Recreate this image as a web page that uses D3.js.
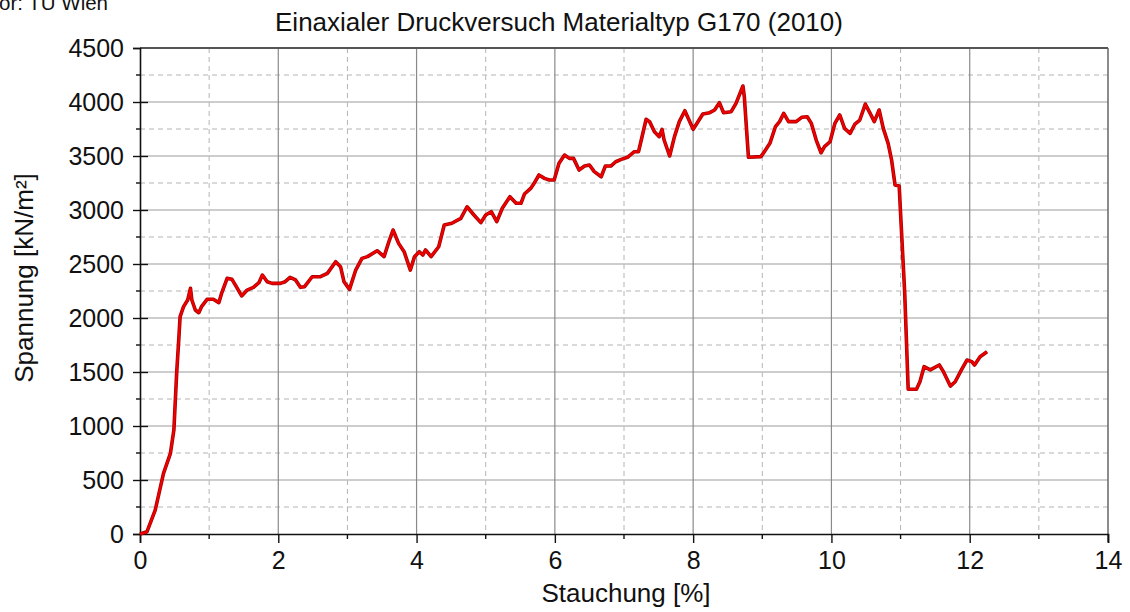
<!DOCTYPE html>
<html>
<head>
<meta charset="utf-8">
<script src="https://cdn.jsdelivr.net/npm/d3@7"></script>
<style>
  body { margin: 0; background: #fff; }
  svg { font-family: "Liberation Sans", Arial, sans-serif; }
</style>
</head>
<body>
<svg id="chart" width="1130" height="612"></svg>
<script>
// Stauchung [%]
const strain = [
  0.00, 0.10, 0.22, 0.34, 0.44, 0.49, 0.53, 0.56, 0.58, 0.63,
  0.69, 0.73, 0.75, 0.80, 0.85, 0.89, 0.97, 1.06, 1.14, 1.18,
  1.26, 1.33, 1.38, 1.47, 1.55, 1.64, 1.72, 1.77, 1.84, 1.91,
  2.03, 2.10, 2.17, 2.25, 2.32, 2.38, 2.49, 2.61, 2.71, 2.83,
  2.90, 2.95, 3.03, 3.12, 3.21, 3.29, 3.43, 3.53, 3.60, 3.66,
  3.74, 3.82, 3.91, 3.97, 4.04, 4.09, 4.13, 4.21, 4.32, 4.40,
  4.51, 4.64, 4.73, 4.83, 4.93, 5.00, 5.08, 5.16, 5.24, 5.35,
  5.44, 5.51, 5.56, 5.65, 5.70, 5.77, 5.85, 5.92, 5.99, 6.06,
  6.14, 6.21, 6.27, 6.35, 6.43, 6.50, 6.57, 6.67, 6.73, 6.81,
  6.88, 6.96, 7.05, 7.15, 7.21, 7.25, 7.32, 7.37, 7.44, 7.51,
  7.55, 7.58, 7.66, 7.73, 7.80, 7.88, 8.00, 8.04, 8.14, 8.24,
  8.31, 8.38, 8.44, 8.55, 8.62, 8.72, 8.74, 8.80, 8.98, 9.03,
  9.11, 9.19, 9.25, 9.31, 9.38, 9.49, 9.57, 9.65, 9.71, 9.78,
  9.85, 9.90, 9.98, 10.05, 10.12, 10.19, 10.27, 10.34, 10.41, 10.49,
  10.56, 10.62, 10.69, 10.75, 10.82, 10.87, 10.92, 10.98, 11.01, 11.06,
  11.11, 11.23, 11.28, 11.34, 11.43, 11.56, 11.62, 11.72, 11.79, 11.88,
  11.96, 12.03, 12.07, 12.15, 12.25
];

// Spannung [kN/m²]
const stress = [
  0, 20, 222, 562, 747, 963, 1488, 1796, 2012, 2105,
  2167, 2275, 2167, 2074, 2049, 2105, 2173, 2173, 2142, 2228,
  2367, 2358, 2305, 2204, 2259, 2284, 2327, 2398, 2336, 2321,
  2321, 2336, 2376, 2352, 2284, 2290, 2382, 2382, 2413, 2521,
  2475, 2336, 2265, 2444, 2552, 2568, 2623, 2568, 2707, 2815,
  2691, 2614, 2444, 2568, 2614, 2583, 2630, 2568, 2660, 2861,
  2877, 2923, 3030, 2954, 2883, 2954, 2984, 2892, 3016, 3123,
  3062, 3062, 3148, 3200, 3247, 3324, 3293, 3278, 3278, 3432,
  3509, 3478, 3478, 3370, 3407, 3417, 3355, 3308, 3407, 3407,
  3447, 3469, 3488, 3540, 3540, 3648, 3840, 3818, 3725, 3679,
  3747, 3648, 3500, 3679, 3818, 3919, 3747, 3787, 3889, 3901,
  3926, 3993, 3901, 3910, 3988, 4148, 4049, 3488, 3494, 3540,
  3617, 3771, 3818, 3895, 3818, 3818, 3858, 3864, 3802, 3648,
  3530, 3586, 3632, 3802, 3880, 3756, 3710, 3796, 3833, 3981,
  3895, 3818, 3926, 3756, 3617, 3463, 3231, 3222, 2845, 2229,
  1340, 1340, 1410, 1549, 1519, 1565, 1503, 1370, 1410, 1519,
  1611, 1596, 1565, 1642, 1688
];

const xTicks = [0, 2, 4, 6, 8, 10, 12, 14];
const xMinor = [1, 3, 5, 7, 9, 11, 13];
const yTicks = [0, 500, 1000, 1500, 2000, 2500, 3000, 3500, 4000, 4500];
const yMinor = [250, 750, 1250, 1750, 2250, 2750, 3250, 3750, 4250];

const titleText = 'Einaxialer Druckversuch Materialtyp G170 (2010)';
const xLabel = 'Stauchung [%]';
const yLabel = 'Spannung [kN/m²]';
const sourceText = 'Autor: TU Wien';

const svg = d3.select('#chart');
const plotLeft = 140, plotRight = 1108, plotTop = 48, plotBottom = 534;
const fontFam = '"Liberation Sans", Arial, sans-serif';

const x = d3.scaleLinear().domain([0, 14]).range([plotLeft, plotRight]);
const y = d3.scaleLinear().domain([0, 4500]).range([plotBottom, plotTop]);

const g = svg.append('g');

// minor grid (dashed)
g.selectAll('.vminor').data(xMinor).enter().append('line')
  .attr('x1', d => x(d)).attr('x2', d => x(d)).attr('y1', plotTop).attr('y2', plotBottom)
  .attr('stroke', '#b4b4b4').attr('stroke-width', 1).attr('stroke-dasharray', '5,4');
g.selectAll('.hminor').data(yMinor).enter().append('line')
  .attr('x1', plotLeft).attr('x2', plotRight).attr('y1', d => y(d)).attr('y2', d => y(d))
  .attr('stroke', '#b4b4b4').attr('stroke-width', 1).attr('stroke-dasharray', '5,4');

// major grid
g.selectAll('.hmajor').data(yTicks.slice(1, -1)).enter().append('line')
  .attr('x1', plotLeft).attr('x2', plotRight).attr('y1', d => y(d)).attr('y2', d => y(d))
  .attr('stroke', '#bcbcbc').attr('stroke-width', 1.3);
g.selectAll('.vmajor').data(xTicks.slice(1, -1)).enter().append('line')
  .attr('x1', d => x(d)).attr('x2', d => x(d)).attr('y1', plotTop).attr('y2', plotBottom)
  .attr('stroke', '#8a8a8a').attr('stroke-width', 1.2);

// frame top / right
g.append('line').attr('x1', plotLeft).attr('x2', plotRight).attr('y1', plotTop).attr('y2', plotTop)
  .attr('stroke', '#555').attr('stroke-width', 1.8);
g.append('line').attr('x1', plotRight).attr('x2', plotRight).attr('y1', plotTop).attr('y2', plotBottom + 8)
  .attr('stroke', '#666').attr('stroke-width', 1.5);

// axes
const xAxis = d3.axisBottom(x).tickValues(xTicks).tickFormat(d3.format('d')).tickSize(9).tickPadding(8);
const xAxisG = svg.append('g').attr('transform', `translate(0,${plotBottom})`).call(xAxis);
xAxisG.select('.domain').attr('stroke', '#111').attr('stroke-width', 1.6);
xAxisG.selectAll('.tick line').attr('stroke', '#111').attr('stroke-width', 1.4);
xAxisG.selectAll('.tick text').attr('font-size', 25).attr('fill', '#111').attr('font-family', fontFam);
xAxisG.selectAll('.xm').data(xMinor).enter().append('line')
  .attr('x1', d => x(d)).attr('x2', d => x(d)).attr('y1', 0).attr('y2', 5)
  .attr('stroke', '#111').attr('stroke-width', 1.4);

const yAxis = d3.axisLeft(y).tickValues(yTicks).tickFormat(d3.format('d')).tickSize(7).tickPadding(9);
const yAxisG = svg.append('g').attr('transform', `translate(${plotLeft},0)`).call(yAxis);
yAxisG.select('.domain').attr('stroke', '#111').attr('stroke-width', 1.6);
yAxisG.selectAll('.tick line').attr('stroke', '#111').attr('stroke-width', 1.4)
  .attr('x2', -7).attr('x1', d => (d === 0 || d === 4500) ? 0 : 8);
yAxisG.selectAll('.tick text').attr('font-size', 25).attr('fill', '#111').attr('font-family', fontFam);
yAxisG.selectAll('.ym').data(yMinor).enter().append('line')
  .attr('x1', -4).attr('x2', 0).attr('y1', d => y(d)).attr('y2', d => y(d))
  .attr('stroke', '#111').attr('stroke-width', 1.4);

// curve
const line = d3.line()
  .x((d, i) => x(strain[i]))
  .y(d => y(d))
  .curve(d3.curveLinear);

svg.append('path')
  .datum(stress)
  .attr('d', line)
  .attr('fill', 'none')
  .attr('stroke', '#a00000')
  .attr('stroke-width', 3.6)
  .attr('stroke-linejoin', 'round');
svg.append('path')
  .datum(stress)
  .attr('d', line)
  .attr('fill', 'none')
  .attr('stroke', '#ee0000')
  .attr('stroke-width', 2.2)
  .attr('stroke-linejoin', 'round');

// texts
svg.append('text').attr('x', 559).attr('y', 31).attr('text-anchor', 'middle')
  .attr('font-size', 26).attr('fill', '#111').text(titleText);
svg.append('text').attr('x', 626).attr('y', 602).attr('text-anchor', 'middle')
  .attr('font-size', 26).attr('fill', '#111').text(xLabel);
svg.append('text').attr('transform', 'translate(33,278) rotate(-90)').attr('text-anchor', 'middle')
  .attr('font-size', 26).attr('fill', '#111').text(yLabel);
// source note, partly cut at the top-left corner as in the original
svg.append('text').attr('x', 108).attr('y', 10).attr('text-anchor', 'end')
  .attr('font-size', 20.5).attr('fill', '#111').text(sourceText);
</script>
</body>
</html>
